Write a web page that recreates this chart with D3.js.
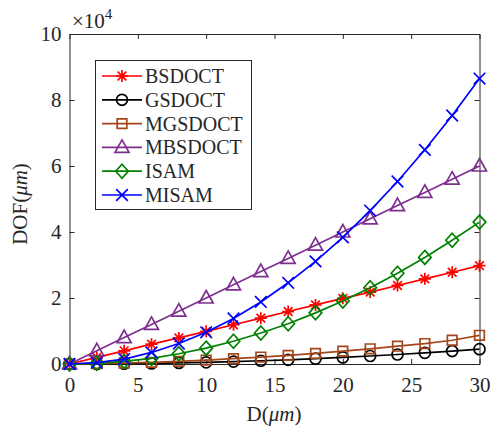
<!DOCTYPE html>
<html>
<head>
<meta charset="utf-8">
<script src="https://cdn.jsdelivr.net/npm/d3@7"></script>
<style>
  body { margin: 0; background: #fff; }
  svg { display: block; font-family: "Liberation Serif", "Times New Roman", serif; }
</style>
</head>
<body>
<svg id="chart"></svg>
<script>
// depth (um), values in units of 1e4 um
let depths = [0, 2, 4, 6, 8, 10, 12, 14, 16, 18, 20, 22, 24, 26, 28, 30];
let bsdoct = [0, 0.2, 0.4, 0.6, 0.79, 0.99, 1.19, 1.39, 1.59, 1.79, 1.99, 2.18, 2.38, 2.58, 2.78, 2.98];
let gsdoct = [0, 0.002, 0.008, 0.018, 0.032, 0.05, 0.072, 0.098, 0.128, 0.162, 0.2, 0.242, 0.288, 0.338, 0.392, 0.45];
let mgsdoct = [0, 0.01, 0.03, 0.05, 0.08, 0.12, 0.16, 0.21, 0.26, 0.32, 0.39, 0.46, 0.54, 0.62, 0.72, 0.87];
let mbsdoct = [0, 0.4, 0.8, 1.2, 1.6, 2.0, 2.4, 2.8, 3.2, 3.6, 4.0, 4.4, 4.8, 5.2, 5.6, 6.0];
let isam = [0, 0.02, 0.08, 0.17, 0.31, 0.48, 0.69, 0.94, 1.22, 1.55, 1.91, 2.31, 2.75, 3.23, 3.75, 4.3];
let misam = [0, 0.04, 0.15, 0.35, 0.62, 0.96, 1.38, 1.88, 2.46, 3.11, 3.84, 4.65, 5.53, 6.49, 7.53, 8.65];
let xTicks = [0, 5, 10, 15, 20, 25, 30];
let yTicks = [0, 2, 4, 6, 8, 10];

let series = [
    { name: 'BSDOCT', values: bsdoct, color: '#ff0000', marker: 'asterisk' },
    { name: 'GSDOCT', values: gsdoct, color: '#000000', marker: 'circle' },
    { name: 'MGSDOCT', values: mgsdoct, color: '#a4461b', marker: 'square' },
    { name: 'MBSDOCT', values: mbsdoct, color: '#7e2f8e', marker: 'triangle' },
    { name: 'ISAM', values: isam, color: '#008000', marker: 'diamond' },
    { name: 'MISAM', values: misam, color: '#0000ff', marker: 'cross' }
];

function markerPath(type) {
    let p = d3.path();
    if (type === 'asterisk') {
        let r = 6, d = r * 0.72;
        p.moveTo(-r, 0); p.lineTo(r, 0);
        p.moveTo(0, -r); p.lineTo(0, r);
        p.moveTo(-d, -d); p.lineTo(d, d);
        p.moveTo(-d, d); p.lineTo(d, -d);
    } else if (type === 'circle') {
        p.moveTo(5.5, 0); p.arc(0, 0, 5.5, 0, 2 * Math.PI);
    } else if (type === 'square') {
        p.rect(-4.8, -4.8, 9.6, 9.6);
    } else if (type === 'triangle') {
        p.moveTo(0, -7.5); p.lineTo(7, 5); p.lineTo(-7, 5); p.closePath();
    } else if (type === 'diamond') {
        p.moveTo(0, -7); p.lineTo(6.3, 0); p.lineTo(0, 7); p.lineTo(-6.3, 0); p.closePath();
    } else {
        let r = 5.8;
        p.moveTo(-r, -r); p.lineTo(r, r);
        p.moveTo(-r, r); p.lineTo(r, -r);
    }
    return p.toString();
}

let width = 491, height = 433;
let margin = { top: 34, right: 11.5, bottom: 69, left: 69.5 };
let axisColor = '#262626';

let svg = d3.select('#chart').attr('width', width).attr('height', height);

let xScale = d3.scaleLinear().domain([0, 30]).range([margin.left, width - margin.right]);
let yScale = d3.scaleLinear().domain([0, 10]).range([height - margin.bottom, margin.top]);

// axes: labels on bottom/left, mirrored ticks on top/right, all ticks inward
function styleAxis(g) {
    g.select('.domain').attr('stroke', axisColor).attr('stroke-width', 1);
    g.selectAll('.tick line').attr('stroke', axisColor).attr('stroke-width', 1);
    g.selectAll('.tick text').attr('fill', axisColor).style('font-size', '21px').style('font-family', '"Liberation Serif", serif');
}

svg.append('g')
    .attr('transform', `translate(0,${yScale(0)})`)
    .call(d3.axisBottom(xScale).tickValues(xTicks).tickSize(-5).tickPadding(13).tickSizeOuter(0))
    .call(styleAxis);

svg.append('g')
    .attr('transform', `translate(0,${yScale(10)})`)
    .call(d3.axisTop(xScale).tickValues(xTicks).tickSize(-5).tickFormat('').tickSizeOuter(0))
    .call(styleAxis);

svg.append('g')
    .attr('transform', `translate(${xScale(0)},0)`)
    .call(d3.axisLeft(yScale).tickValues(yTicks).tickSize(-5).tickPadding(8).tickSizeOuter(0))
    .call(styleAxis);

svg.append('g')
    .attr('transform', `translate(${xScale(30)},0)`)
    .call(d3.axisRight(yScale).tickValues(yTicks).tickSize(-5).tickFormat('').tickSizeOuter(0))
    .call(styleAxis);

// lines and markers
let line = d3.line().x((d, i) => xScale(depths[i])).y(d => yScale(d));

series.forEach(s => {
    let g = svg.append('g');
    g.append('path')
        .attr('d', line(s.values))
        .attr('fill', 'none')
        .attr('stroke', s.color)
        .attr('stroke-width', 1.7);
    g.selectAll('.mk').data(s.values).enter().append('path')
        .attr('d', markerPath(s.marker))
        .attr('transform', (d, i) => `translate(${xScale(depths[i])},${yScale(d)})`)
        .attr('fill', 'none')
        .attr('stroke', s.color)
        .attr('stroke-width', 1.7);
});

// exponent label
let expo = svg.append('text')
    .attr('x', 72)
    .attr('y', 28)
    .attr('fill', axisColor)
    .style('font-size', '21px');
expo.append('tspan').text('\u00d710');
expo.append('tspan').attr('dy', -9).style('font-size', '15px').text('4');

// axis titles
let xTitle = svg.append('text')
    .attr('x', 274)
    .attr('y', 421)
    .attr('text-anchor', 'middle')
    .attr('fill', axisColor)
    .style('font-size', '21px');
xTitle.append('tspan').text('D(');
xTitle.append('tspan').style('font-style', 'italic').text('\u03bcm');
xTitle.append('tspan').text(')');

let yTitle = svg.append('text')
    .attr('transform', 'translate(27,204) rotate(-90)')
    .attr('text-anchor', 'middle')
    .attr('fill', axisColor)
    .style('font-size', '21px');
yTitle.append('tspan').text('DOF(');
yTitle.append('tspan').style('font-style', 'italic').text('\u03bcm');
yTitle.append('tspan').text(')');

// legend
let legend = svg.append('g');
legend.append('rect')
    .attr('x', 95.5).attr('y', 60.5)
    .attr('width', 156).attr('height', 149)
    .attr('fill', '#fff')
    .attr('stroke', axisColor)
    .attr('stroke-width', 1);

series.forEach((s, i) => {
    let y = 76 + i * 23.8;
    legend.append('line')
        .attr('x1', 102).attr('x2', 142)
        .attr('y1', y).attr('y2', y)
        .attr('stroke', s.color).attr('stroke-width', 1.7);
    legend.append('path')
        .attr('d', markerPath(s.marker))
        .attr('transform', `translate(122,${y})`)
        .attr('fill', 'none')
        .attr('stroke', s.color)
        .attr('stroke-width', 1.7);
    legend.append('text')
        .attr('x', 145).attr('y', y)
        .attr('dy', '0.35em')
        .attr('fill', axisColor)
        .style('font-size', '20px')
        .text(s.name);
});
</script>
</body>
</html>
